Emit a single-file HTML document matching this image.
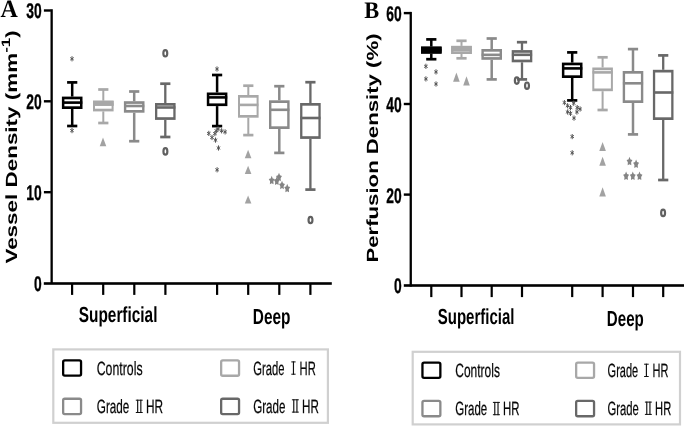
<!DOCTYPE html>
<html><head><meta charset="utf-8"><title>Figure</title>
<style>
html,body{margin:0;padding:0;background:#fff;}
body{width:685px;height:427px;overflow:hidden;font-family:"Liberation Sans",sans-serif;}
svg{display:block;will-change:transform;}
text{text-rendering:geometricPrecision;}
</style></head><body>
<svg width="685" height="427" viewBox="0 0 685 427" shape-rendering="auto">
<rect x="0" y="0" width="685" height="427" fill="#ffffff"/>
<rect x="50.50" y="9.20" width="2.30" height="274.60" fill="#000000"/>
<rect x="43.80" y="282.20" width="288.00" height="2.60" fill="#000000"/>
<rect x="43.90" y="9.30" width="7.00" height="2.40" fill="#000000"/>
<rect x="43.90" y="100.10" width="7.00" height="2.40" fill="#000000"/>
<rect x="43.90" y="191.00" width="7.00" height="2.40" fill="#000000"/>
<rect x="71.00" y="283.00" width="2.20" height="11.90" fill="#000000"/>
<rect x="102.10" y="283.00" width="2.20" height="11.90" fill="#000000"/>
<rect x="133.20" y="283.00" width="2.20" height="11.90" fill="#000000"/>
<rect x="164.30" y="283.00" width="2.20" height="11.90" fill="#000000"/>
<rect x="216.00" y="283.00" width="2.20" height="11.90" fill="#000000"/>
<rect x="247.10" y="283.00" width="2.20" height="11.90" fill="#000000"/>
<rect x="278.20" y="283.00" width="2.20" height="11.90" fill="#000000"/>
<rect x="309.30" y="283.00" width="2.20" height="11.90" fill="#000000"/>
<text transform="translate(41.60,18.20) scale(0.65,1)" font-family="Liberation Sans" font-size="21.3" font-weight="bold" text-anchor="end" fill="#000" stroke="#000" stroke-width="0.35">30</text>
<text transform="translate(41.60,109.00) scale(0.65,1)" font-family="Liberation Sans" font-size="21.3" font-weight="bold" text-anchor="end" fill="#000" stroke="#000" stroke-width="0.35">20</text>
<text transform="translate(41.60,199.90) scale(0.65,1)" font-family="Liberation Sans" font-size="21.3" font-weight="bold" text-anchor="end" fill="#000" stroke="#000" stroke-width="0.35">10</text>
<text transform="translate(41.60,290.60) scale(0.65,1)" font-family="Liberation Sans" font-size="21.3" font-weight="bold" text-anchor="end" fill="#000" stroke="#000" stroke-width="0.35">0</text>
<text transform="translate(118.10,322.00) scale(0.706,1)" font-family="Liberation Sans" font-size="21.8" font-weight="bold" text-anchor="middle" fill="#000">Superficial</text>
<text transform="translate(271.60,323.80) scale(0.706,1)" font-family="Liberation Sans" font-size="21.8" font-weight="bold" text-anchor="middle" fill="#000">Deep</text>
<text transform="translate(0.50,17.10) scale(0.95,1)" font-family="Liberation Serif" font-size="25.2" font-weight="bold" text-anchor="start" fill="#000">A</text>
<text transform="translate(17,263.6) rotate(-90) scale(1.386,1)" font-family="Liberation Sans" font-size="16.2" font-weight="bold" fill="#000">Vessel Density (mm<tspan font-size="12.2" dy="-7.2">-1</tspan><tspan dy="7.2">)</tspan></text>
<rect x="70.95" y="82.40" width="2.50" height="14.20" fill="#000000"/>
<rect x="70.95" y="109.00" width="2.50" height="17.00" fill="#000000"/>
<rect x="67.10" y="81.05" width="10.20" height="2.70" fill="#000000"/>
<rect x="67.10" y="124.65" width="10.20" height="2.70" fill="#000000"/>
<rect x="61.90" y="96.60" width="20.60" height="12.40" fill="#000000"/>
<rect x="64.40" y="99.30" width="15.60" height="7.00" fill="#ffffff"/>
<rect x="62.10" y="101.30" width="20.20" height="2.60" fill="#000000"/>
<rect x="102.30" y="89.50" width="2.00" height="11.20" fill="#a8a8a8"/>
<rect x="102.30" y="111.40" width="2.00" height="11.60" fill="#a8a8a8"/>
<rect x="98.20" y="88.15" width="10.20" height="2.70" fill="#a8a8a8"/>
<rect x="98.20" y="121.65" width="10.20" height="2.70" fill="#a8a8a8"/>
<rect x="93.00" y="100.70" width="20.60" height="10.70" fill="#a8a8a8"/>
<rect x="95.00" y="103.40" width="16.60" height="5.30" fill="#ffffff"/>
<rect x="93.20" y="103.20" width="20.20" height="2.60" fill="#a8a8a8"/>
<rect x="93.00" y="100.70" width="20.60" height="5.10" fill="#a8a8a8"/>
<rect x="132.95" y="91.50" width="2.50" height="9.70" fill="#8a8a8a"/>
<rect x="132.95" y="112.70" width="2.50" height="28.50" fill="#8a8a8a"/>
<rect x="129.10" y="90.15" width="10.20" height="2.70" fill="#8a8a8a"/>
<rect x="129.10" y="139.85" width="10.20" height="2.70" fill="#8a8a8a"/>
<rect x="123.90" y="101.20" width="20.60" height="11.50" fill="#8a8a8a"/>
<rect x="126.30" y="103.90" width="15.80" height="6.10" fill="#ffffff"/>
<rect x="124.10" y="104.70" width="20.20" height="2.60" fill="#8a8a8a"/>
<rect x="164.15" y="83.70" width="2.30" height="19.30" fill="#686868"/>
<rect x="164.15" y="119.90" width="2.30" height="17.10" fill="#686868"/>
<rect x="160.20" y="82.35" width="10.20" height="2.70" fill="#686868"/>
<rect x="160.20" y="135.65" width="10.20" height="2.70" fill="#686868"/>
<rect x="155.00" y="103.00" width="20.60" height="16.90" fill="#686868"/>
<rect x="157.30" y="105.70" width="16.00" height="11.50" fill="#ffffff"/>
<rect x="155.20" y="106.20" width="20.20" height="2.60" fill="#686868"/>
<rect x="215.85" y="75.00" width="2.50" height="17.50" fill="#000000"/>
<rect x="215.85" y="106.10" width="2.50" height="20.00" fill="#000000"/>
<rect x="212.00" y="73.65" width="10.20" height="2.70" fill="#000000"/>
<rect x="212.00" y="124.75" width="10.20" height="2.70" fill="#000000"/>
<rect x="206.80" y="92.50" width="20.60" height="13.60" fill="#000000"/>
<rect x="209.30" y="95.20" width="15.60" height="8.20" fill="#ffffff"/>
<rect x="207.00" y="96.10" width="20.20" height="2.60" fill="#000000"/>
<rect x="247.30" y="85.70" width="2.00" height="9.30" fill="#a8a8a8"/>
<rect x="247.30" y="117.70" width="2.00" height="17.40" fill="#a8a8a8"/>
<rect x="243.20" y="84.35" width="10.20" height="2.70" fill="#a8a8a8"/>
<rect x="243.20" y="133.75" width="10.20" height="2.70" fill="#a8a8a8"/>
<rect x="238.00" y="95.00" width="20.60" height="22.70" fill="#a8a8a8"/>
<rect x="240.00" y="97.70" width="16.60" height="17.30" fill="#ffffff"/>
<rect x="238.20" y="103.60" width="20.20" height="2.60" fill="#a8a8a8"/>
<rect x="278.05" y="86.20" width="2.50" height="14.10" fill="#8a8a8a"/>
<rect x="278.05" y="129.00" width="2.50" height="23.90" fill="#8a8a8a"/>
<rect x="274.20" y="84.85" width="10.20" height="2.70" fill="#8a8a8a"/>
<rect x="274.20" y="151.55" width="10.20" height="2.70" fill="#8a8a8a"/>
<rect x="269.00" y="100.30" width="20.60" height="28.70" fill="#8a8a8a"/>
<rect x="271.40" y="103.00" width="15.80" height="23.30" fill="#ffffff"/>
<rect x="269.20" y="108.50" width="20.20" height="2.60" fill="#8a8a8a"/>
<rect x="309.25" y="82.20" width="2.30" height="20.80" fill="#686868"/>
<rect x="309.25" y="138.90" width="2.30" height="50.70" fill="#686868"/>
<rect x="305.30" y="80.85" width="10.20" height="2.70" fill="#686868"/>
<rect x="305.30" y="188.25" width="10.20" height="2.70" fill="#686868"/>
<rect x="300.10" y="103.00" width="20.60" height="35.90" fill="#686868"/>
<rect x="302.40" y="105.70" width="16.00" height="30.50" fill="#ffffff"/>
<rect x="300.30" y="116.70" width="20.20" height="2.60" fill="#686868"/>
<line x1="72.00" y1="56.20" x2="72.00" y2="61.40" stroke="#555555" stroke-width="1.0"/><line x1="70.24" y1="57.50" x2="73.76" y2="60.10" stroke="#555555" stroke-width="1.0"/><line x1="73.76" y1="57.50" x2="70.24" y2="60.10" stroke="#555555" stroke-width="1.0"/>
<line x1="72.00" y1="128.00" x2="72.00" y2="133.20" stroke="#555555" stroke-width="1.0"/><line x1="70.24" y1="129.30" x2="73.76" y2="131.90" stroke="#555555" stroke-width="1.0"/><line x1="73.76" y1="129.30" x2="70.24" y2="131.90" stroke="#555555" stroke-width="1.0"/>
<line x1="217.00" y1="66.40" x2="217.00" y2="71.60" stroke="#555555" stroke-width="1.0"/><line x1="215.24" y1="67.70" x2="218.76" y2="70.30" stroke="#555555" stroke-width="1.0"/><line x1="218.76" y1="67.70" x2="215.24" y2="70.30" stroke="#555555" stroke-width="1.0"/>
<line x1="208.80" y1="130.80" x2="208.80" y2="136.00" stroke="#555555" stroke-width="1.0"/><line x1="207.04" y1="132.10" x2="210.56" y2="134.70" stroke="#555555" stroke-width="1.0"/><line x1="210.56" y1="132.10" x2="207.04" y2="134.70" stroke="#555555" stroke-width="1.0"/>
<line x1="212.00" y1="134.90" x2="212.00" y2="140.10" stroke="#555555" stroke-width="1.0"/><line x1="210.24" y1="136.20" x2="213.76" y2="138.80" stroke="#555555" stroke-width="1.0"/><line x1="213.76" y1="136.20" x2="210.24" y2="138.80" stroke="#555555" stroke-width="1.0"/>
<line x1="215.50" y1="137.50" x2="215.50" y2="142.70" stroke="#555555" stroke-width="1.0"/><line x1="213.74" y1="138.80" x2="217.26" y2="141.40" stroke="#555555" stroke-width="1.0"/><line x1="217.26" y1="138.80" x2="213.74" y2="141.40" stroke="#555555" stroke-width="1.0"/>
<line x1="214.90" y1="131.00" x2="214.90" y2="136.20" stroke="#555555" stroke-width="1.0"/><line x1="213.14" y1="132.30" x2="216.66" y2="134.90" stroke="#555555" stroke-width="1.0"/><line x1="216.66" y1="132.30" x2="213.14" y2="134.90" stroke="#555555" stroke-width="1.0"/>
<line x1="216.30" y1="128.20" x2="216.30" y2="133.40" stroke="#555555" stroke-width="1.0"/><line x1="214.54" y1="129.50" x2="218.06" y2="132.10" stroke="#555555" stroke-width="1.0"/><line x1="218.06" y1="129.50" x2="214.54" y2="132.10" stroke="#555555" stroke-width="1.0"/>
<line x1="218.10" y1="126.40" x2="218.10" y2="131.60" stroke="#555555" stroke-width="1.0"/><line x1="216.34" y1="127.70" x2="219.86" y2="130.30" stroke="#555555" stroke-width="1.0"/><line x1="219.86" y1="127.70" x2="216.34" y2="130.30" stroke="#555555" stroke-width="1.0"/>
<line x1="221.60" y1="128.20" x2="221.60" y2="133.40" stroke="#555555" stroke-width="1.0"/><line x1="219.84" y1="129.50" x2="223.36" y2="132.10" stroke="#555555" stroke-width="1.0"/><line x1="223.36" y1="129.50" x2="219.84" y2="132.10" stroke="#555555" stroke-width="1.0"/>
<line x1="225.10" y1="129.30" x2="225.10" y2="134.50" stroke="#555555" stroke-width="1.0"/><line x1="223.34" y1="130.60" x2="226.86" y2="133.20" stroke="#555555" stroke-width="1.0"/><line x1="226.86" y1="130.60" x2="223.34" y2="133.20" stroke="#555555" stroke-width="1.0"/>
<line x1="218.50" y1="145.40" x2="218.50" y2="150.60" stroke="#555555" stroke-width="1.0"/><line x1="216.74" y1="146.70" x2="220.26" y2="149.30" stroke="#555555" stroke-width="1.0"/><line x1="220.26" y1="146.70" x2="216.74" y2="149.30" stroke="#555555" stroke-width="1.0"/>
<line x1="217.10" y1="167.20" x2="217.10" y2="172.40" stroke="#555555" stroke-width="1.0"/><line x1="215.34" y1="168.50" x2="218.86" y2="171.10" stroke="#555555" stroke-width="1.0"/><line x1="218.86" y1="168.50" x2="215.34" y2="171.10" stroke="#555555" stroke-width="1.0"/>
<polygon points="103.00,137.40 99.70,146.20 106.30,146.20" fill="#a2a2a2"/>
<polygon points="248.10,149.80 244.80,158.20 251.40,158.20" fill="#a2a2a2"/>
<polygon points="248.10,165.70 244.80,174.10 251.40,174.10" fill="#a2a2a2"/>
<polygon points="248.10,195.40 244.80,203.60 251.40,203.60" fill="#a2a2a2"/>
<polygon points="271.70,175.85 272.72,178.42 274.65,179.10 273.35,181.36 273.52,184.35 271.70,183.18 269.88,184.35 270.05,181.36 268.75,179.10 270.68,178.42" fill="#848484"/>
<polygon points="276.80,176.55 277.82,179.12 279.75,179.80 278.45,182.06 278.62,185.05 276.80,183.88 274.98,185.05 275.15,182.06 273.85,179.80 275.78,179.12" fill="#848484"/>
<polygon points="279.00,172.75 280.02,175.32 281.95,176.00 280.65,178.26 280.82,181.25 279.00,180.08 277.18,181.25 277.35,178.26 276.05,176.00 277.98,175.32" fill="#848484"/>
<polygon points="282.00,180.65 283.02,183.22 284.95,183.90 283.65,186.16 283.82,189.15 282.00,187.98 280.18,189.15 280.35,186.16 279.05,183.90 280.98,183.22" fill="#848484"/>
<polygon points="287.20,183.85 288.22,186.42 290.15,187.10 288.85,189.36 289.02,192.35 287.20,191.18 285.38,192.35 285.55,189.36 284.25,187.10 286.18,186.42" fill="#848484"/>
<ellipse cx="165.30" cy="53.30" rx="1.95" ry="3.2" fill="none" stroke="#606060" stroke-width="2.2"/>
<ellipse cx="165.40" cy="151.40" rx="1.95" ry="3.2" fill="none" stroke="#606060" stroke-width="2.2"/>
<ellipse cx="310.50" cy="220.00" rx="1.95" ry="3.2" fill="none" stroke="#606060" stroke-width="2.2"/>
<rect x="53.30" y="349.40" width="274.60" height="73.40" fill="#fff" stroke="#d0d0d0" stroke-width="2.2"/>
<rect x="63.15" y="360.35" width="17.90" height="15.30" rx="1.6" ry="1.6" fill="#fff" stroke="#000000" stroke-width="2.3"/>
<rect x="63.15" y="398.75" width="17.90" height="15.30" rx="1.6" ry="1.6" fill="#fff" stroke="#8a8a8a" stroke-width="2.3"/>
<rect x="221.15" y="360.45" width="17.90" height="15.30" rx="1.6" ry="1.6" fill="#fff" stroke="#a8a8a8" stroke-width="2.3"/>
<rect x="221.15" y="398.75" width="17.90" height="15.30" rx="1.6" ry="1.6" fill="#fff" stroke="#686868" stroke-width="2.3"/>
<text transform="translate(96.70,374.95) scale(0.642,1)" font-family="Liberation Sans" font-size="19.2" font-weight="normal" text-anchor="start" fill="#080808" stroke="#080808" stroke-width="0.25">Controls</text>
<text transform="translate(96.80,413.15) scale(0.611,1)" font-family="Liberation Sans" font-size="19.2" font-weight="normal" text-anchor="start" fill="#080808" stroke="#080808" stroke-width="0.25">Grade</text><rect x="135.80" y="399.70" width="6.90" height="1.00" fill="#101010"/><rect x="135.80" y="412.00" width="6.90" height="1.00" fill="#101010"/><rect x="137.09" y="399.70" width="1.15" height="13.30" fill="#101010"/><rect x="140.26" y="399.70" width="1.15" height="13.30" fill="#101010"/><text transform="translate(145.90,413.15) scale(0.6168,1)" font-family="Liberation Sans" font-size="19.2" font-weight="normal" text-anchor="start" fill="#080808" stroke="#080808" stroke-width="0.25">HR</text>
<text transform="translate(253.20,374.85) scale(0.5847,1)" font-family="Liberation Sans" font-size="19.2" font-weight="normal" text-anchor="start" fill="#080808" stroke="#080808" stroke-width="0.25">Grade</text><rect x="291.30" y="361.40" width="4.30" height="1.00" fill="#101010"/><rect x="291.30" y="373.70" width="4.30" height="1.00" fill="#101010"/><rect x="292.88" y="361.40" width="1.15" height="13.30" fill="#101010"/><text transform="translate(299.60,374.85) scale(0.5843,1)" font-family="Liberation Sans" font-size="19.2" font-weight="normal" text-anchor="start" fill="#080808" stroke="#080808" stroke-width="0.25">HR</text>
<text transform="translate(253.20,412.75) scale(0.6054,1)" font-family="Liberation Sans" font-size="19.2" font-weight="normal" text-anchor="start" fill="#080808" stroke="#080808" stroke-width="0.25">Grade</text><rect x="291.90" y="399.30" width="6.90" height="1.00" fill="#101010"/><rect x="291.90" y="411.60" width="6.90" height="1.00" fill="#101010"/><rect x="293.19" y="399.30" width="1.15" height="13.30" fill="#101010"/><rect x="296.36" y="399.30" width="1.15" height="13.30" fill="#101010"/><text transform="translate(302.10,412.75) scale(0.606,1)" font-family="Liberation Sans" font-size="19.2" font-weight="normal" text-anchor="start" fill="#080808" stroke="#080808" stroke-width="0.25">HR</text>
<rect x="409.60" y="11.90" width="2.30" height="274.70" fill="#000000"/>
<rect x="403.80" y="284.20" width="280.20" height="2.60" fill="#000000"/>
<rect x="403.80" y="11.90" width="7.00" height="2.40" fill="#000000"/>
<rect x="403.80" y="102.80" width="7.00" height="2.40" fill="#000000"/>
<rect x="403.80" y="193.40" width="7.00" height="2.40" fill="#000000"/>
<rect x="430.20" y="285.50" width="2.20" height="11.60" fill="#000000"/>
<rect x="460.40" y="285.50" width="2.20" height="11.60" fill="#000000"/>
<rect x="490.60" y="285.50" width="2.20" height="11.60" fill="#000000"/>
<rect x="520.90" y="285.50" width="2.20" height="11.60" fill="#000000"/>
<rect x="571.10" y="285.50" width="2.20" height="11.60" fill="#000000"/>
<rect x="601.50" y="285.50" width="2.20" height="11.60" fill="#000000"/>
<rect x="631.90" y="285.50" width="2.20" height="11.60" fill="#000000"/>
<rect x="662.10" y="285.50" width="2.20" height="11.60" fill="#000000"/>
<text transform="translate(401.60,21.00) scale(0.65,1)" font-family="Liberation Sans" font-size="21.3" font-weight="bold" text-anchor="end" fill="#000" stroke="#000" stroke-width="0.35">60</text>
<text transform="translate(401.60,111.90) scale(0.65,1)" font-family="Liberation Sans" font-size="21.3" font-weight="bold" text-anchor="end" fill="#000" stroke="#000" stroke-width="0.35">40</text>
<text transform="translate(401.60,202.50) scale(0.65,1)" font-family="Liberation Sans" font-size="21.3" font-weight="bold" text-anchor="end" fill="#000" stroke="#000" stroke-width="0.35">20</text>
<text transform="translate(401.60,293.30) scale(0.65,1)" font-family="Liberation Sans" font-size="21.3" font-weight="bold" text-anchor="end" fill="#000" stroke="#000" stroke-width="0.35">0</text>
<text transform="translate(476.10,324.20) scale(0.688,1)" font-family="Liberation Sans" font-size="21.8" font-weight="bold" text-anchor="middle" fill="#000">Superficial</text>
<text transform="translate(625.30,326.20) scale(0.692,1)" font-family="Liberation Sans" font-size="21.8" font-weight="bold" text-anchor="middle" fill="#000">Deep</text>
<text transform="translate(364.30,18.00) scale(0.945,1)" font-family="Liberation Serif" font-size="23.7" font-weight="bold" text-anchor="start" fill="#000">B</text>
<text transform="translate(377.6,262.6) rotate(-90) scale(1.37,1)" font-family="Liberation Sans" font-size="16.2" font-weight="bold" fill="#000">Perfusion Density (%)</text>
<rect x="430.05" y="39.40" width="2.50" height="7.20" fill="#000000"/>
<rect x="430.05" y="53.60" width="2.50" height="5.60" fill="#000000"/>
<rect x="426.20" y="38.05" width="10.20" height="2.70" fill="#000000"/>
<rect x="426.20" y="57.85" width="10.20" height="2.70" fill="#000000"/>
<rect x="421.00" y="46.60" width="20.60" height="7.00" fill="#000000"/>
<rect x="423.50" y="49.30" width="15.60" height="1.60" fill="#ffffff"/>
<rect x="421.20" y="48.80" width="20.20" height="2.60" fill="#000000"/>
<rect x="421.00" y="46.60" width="20.60" height="7.00" fill="#000000"/>
<rect x="460.50" y="40.80" width="2.00" height="5.10" fill="#a8a8a8"/>
<rect x="460.50" y="54.00" width="2.00" height="4.30" fill="#a8a8a8"/>
<rect x="456.40" y="39.45" width="10.20" height="2.70" fill="#a8a8a8"/>
<rect x="456.40" y="56.95" width="10.20" height="2.70" fill="#a8a8a8"/>
<rect x="451.20" y="45.90" width="20.60" height="8.10" fill="#a8a8a8"/>
<rect x="453.20" y="48.60" width="16.60" height="2.70" fill="#ffffff"/>
<rect x="451.40" y="48.70" width="20.20" height="2.60" fill="#a8a8a8"/>
<rect x="451.20" y="45.90" width="20.60" height="8.10" fill="#a8a8a8"/>
<rect x="453.50" y="51.00" width="16.00" height="0.80" fill="#c2c2c2"/>
<rect x="490.45" y="38.50" width="2.50" height="10.50" fill="#8a8a8a"/>
<rect x="490.45" y="59.80" width="2.50" height="19.60" fill="#8a8a8a"/>
<rect x="486.60" y="37.15" width="10.20" height="2.70" fill="#8a8a8a"/>
<rect x="486.60" y="78.05" width="10.20" height="2.70" fill="#8a8a8a"/>
<rect x="481.40" y="49.00" width="20.60" height="10.80" fill="#8a8a8a"/>
<rect x="483.80" y="51.70" width="15.80" height="5.40" fill="#ffffff"/>
<rect x="481.60" y="53.55" width="20.20" height="2.60" fill="#8a8a8a"/>
<rect x="520.85" y="42.20" width="2.30" height="7.90" fill="#686868"/>
<rect x="520.85" y="62.30" width="2.30" height="17.10" fill="#686868"/>
<rect x="516.90" y="40.85" width="10.20" height="2.70" fill="#686868"/>
<rect x="516.90" y="78.05" width="10.20" height="2.70" fill="#686868"/>
<rect x="511.70" y="50.10" width="20.60" height="12.20" fill="#686868"/>
<rect x="514.00" y="52.80" width="16.00" height="6.80" fill="#ffffff"/>
<rect x="511.90" y="53.50" width="20.20" height="2.60" fill="#686868"/>
<rect x="570.95" y="52.40" width="2.50" height="10.20" fill="#000000"/>
<rect x="570.95" y="78.00" width="2.50" height="22.40" fill="#000000"/>
<rect x="567.10" y="51.05" width="10.20" height="2.70" fill="#000000"/>
<rect x="567.10" y="99.05" width="10.20" height="2.70" fill="#000000"/>
<rect x="561.90" y="62.60" width="20.60" height="15.40" fill="#000000"/>
<rect x="564.40" y="65.30" width="15.60" height="10.00" fill="#ffffff"/>
<rect x="562.10" y="67.10" width="20.20" height="2.60" fill="#000000"/>
<rect x="601.60" y="57.30" width="2.00" height="10.20" fill="#a8a8a8"/>
<rect x="601.60" y="91.20" width="2.00" height="18.80" fill="#a8a8a8"/>
<rect x="597.50" y="55.95" width="10.20" height="2.70" fill="#a8a8a8"/>
<rect x="597.50" y="108.65" width="10.20" height="2.70" fill="#a8a8a8"/>
<rect x="592.30" y="67.50" width="20.60" height="23.70" fill="#a8a8a8"/>
<rect x="594.30" y="70.20" width="16.60" height="18.30" fill="#ffffff"/>
<rect x="592.50" y="71.10" width="20.20" height="2.60" fill="#a8a8a8"/>
<rect x="631.75" y="49.10" width="2.50" height="21.90" fill="#8a8a8a"/>
<rect x="631.75" y="103.00" width="2.50" height="31.40" fill="#8a8a8a"/>
<rect x="627.90" y="47.75" width="10.20" height="2.70" fill="#8a8a8a"/>
<rect x="627.90" y="133.05" width="10.20" height="2.70" fill="#8a8a8a"/>
<rect x="622.70" y="71.00" width="20.60" height="32.00" fill="#8a8a8a"/>
<rect x="625.10" y="73.70" width="15.80" height="26.60" fill="#ffffff"/>
<rect x="622.90" y="82.00" width="20.20" height="2.60" fill="#8a8a8a"/>
<rect x="662.05" y="55.40" width="2.30" height="14.40" fill="#686868"/>
<rect x="662.05" y="120.00" width="2.30" height="60.00" fill="#686868"/>
<rect x="658.10" y="54.05" width="10.20" height="2.70" fill="#686868"/>
<rect x="658.10" y="178.65" width="10.20" height="2.70" fill="#686868"/>
<rect x="652.90" y="69.80" width="20.60" height="50.20" fill="#686868"/>
<rect x="655.20" y="72.50" width="16.00" height="44.80" fill="#ffffff"/>
<rect x="653.10" y="91.20" width="20.20" height="2.60" fill="#686868"/>
<line x1="425.90" y1="63.70" x2="425.90" y2="68.90" stroke="#555555" stroke-width="1.0"/><line x1="424.14" y1="65.00" x2="427.66" y2="67.60" stroke="#555555" stroke-width="1.0"/><line x1="427.66" y1="65.00" x2="424.14" y2="67.60" stroke="#555555" stroke-width="1.0"/>
<line x1="436.00" y1="69.30" x2="436.00" y2="74.50" stroke="#555555" stroke-width="1.0"/><line x1="434.24" y1="70.60" x2="437.76" y2="73.20" stroke="#555555" stroke-width="1.0"/><line x1="437.76" y1="70.60" x2="434.24" y2="73.20" stroke="#555555" stroke-width="1.0"/>
<line x1="425.90" y1="76.30" x2="425.90" y2="81.50" stroke="#555555" stroke-width="1.0"/><line x1="424.14" y1="77.60" x2="427.66" y2="80.20" stroke="#555555" stroke-width="1.0"/><line x1="427.66" y1="77.60" x2="424.14" y2="80.20" stroke="#555555" stroke-width="1.0"/>
<line x1="436.00" y1="81.40" x2="436.00" y2="86.60" stroke="#555555" stroke-width="1.0"/><line x1="434.24" y1="82.70" x2="437.76" y2="85.30" stroke="#555555" stroke-width="1.0"/><line x1="437.76" y1="82.70" x2="434.24" y2="85.30" stroke="#555555" stroke-width="1.0"/>
<line x1="564.40" y1="100.00" x2="564.40" y2="105.20" stroke="#555555" stroke-width="1.0"/><line x1="562.64" y1="101.30" x2="566.16" y2="103.90" stroke="#555555" stroke-width="1.0"/><line x1="566.16" y1="101.30" x2="562.64" y2="103.90" stroke="#555555" stroke-width="1.0"/>
<line x1="573.70" y1="100.60" x2="573.70" y2="105.80" stroke="#555555" stroke-width="1.0"/><line x1="571.94" y1="101.90" x2="575.46" y2="104.50" stroke="#555555" stroke-width="1.0"/><line x1="575.46" y1="101.90" x2="571.94" y2="104.50" stroke="#555555" stroke-width="1.0"/>
<line x1="567.60" y1="103.20" x2="567.60" y2="108.40" stroke="#555555" stroke-width="1.0"/><line x1="565.84" y1="104.50" x2="569.36" y2="107.10" stroke="#555555" stroke-width="1.0"/><line x1="569.36" y1="104.50" x2="565.84" y2="107.10" stroke="#555555" stroke-width="1.0"/>
<line x1="570.50" y1="105.00" x2="570.50" y2="110.20" stroke="#555555" stroke-width="1.0"/><line x1="568.74" y1="106.30" x2="572.26" y2="108.90" stroke="#555555" stroke-width="1.0"/><line x1="572.26" y1="106.30" x2="568.74" y2="108.90" stroke="#555555" stroke-width="1.0"/>
<line x1="567.60" y1="109.40" x2="567.60" y2="114.60" stroke="#555555" stroke-width="1.0"/><line x1="565.84" y1="110.70" x2="569.36" y2="113.30" stroke="#555555" stroke-width="1.0"/><line x1="569.36" y1="110.70" x2="565.84" y2="113.30" stroke="#555555" stroke-width="1.0"/>
<line x1="570.50" y1="110.80" x2="570.50" y2="116.00" stroke="#555555" stroke-width="1.0"/><line x1="568.74" y1="112.10" x2="572.26" y2="114.70" stroke="#555555" stroke-width="1.0"/><line x1="572.26" y1="112.10" x2="568.74" y2="114.70" stroke="#555555" stroke-width="1.0"/>
<line x1="577.20" y1="105.00" x2="577.20" y2="110.20" stroke="#555555" stroke-width="1.0"/><line x1="575.44" y1="106.30" x2="578.96" y2="108.90" stroke="#555555" stroke-width="1.0"/><line x1="578.96" y1="106.30" x2="575.44" y2="108.90" stroke="#555555" stroke-width="1.0"/>
<line x1="580.10" y1="106.40" x2="580.10" y2="111.60" stroke="#555555" stroke-width="1.0"/><line x1="578.34" y1="107.70" x2="581.86" y2="110.30" stroke="#555555" stroke-width="1.0"/><line x1="581.86" y1="107.70" x2="578.34" y2="110.30" stroke="#555555" stroke-width="1.0"/>
<line x1="576.90" y1="109.40" x2="576.90" y2="114.60" stroke="#555555" stroke-width="1.0"/><line x1="575.14" y1="110.70" x2="578.66" y2="113.30" stroke="#555555" stroke-width="1.0"/><line x1="578.66" y1="110.70" x2="575.14" y2="113.30" stroke="#555555" stroke-width="1.0"/>
<line x1="574.00" y1="115.50" x2="574.00" y2="120.70" stroke="#555555" stroke-width="1.0"/><line x1="572.24" y1="116.80" x2="575.76" y2="119.40" stroke="#555555" stroke-width="1.0"/><line x1="575.76" y1="116.80" x2="572.24" y2="119.40" stroke="#555555" stroke-width="1.0"/>
<line x1="572.20" y1="134.00" x2="572.20" y2="139.20" stroke="#555555" stroke-width="1.0"/><line x1="570.44" y1="135.30" x2="573.96" y2="137.90" stroke="#555555" stroke-width="1.0"/><line x1="573.96" y1="135.30" x2="570.44" y2="137.90" stroke="#555555" stroke-width="1.0"/>
<line x1="572.20" y1="150.20" x2="572.20" y2="155.40" stroke="#555555" stroke-width="1.0"/><line x1="570.44" y1="151.50" x2="573.96" y2="154.10" stroke="#555555" stroke-width="1.0"/><line x1="573.96" y1="151.50" x2="570.44" y2="154.10" stroke="#555555" stroke-width="1.0"/>
<polygon points="456.40,72.40 453.10,81.70 459.70,81.70" fill="#a2a2a2"/>
<polygon points="466.50,76.30 463.20,85.50 469.80,85.50" fill="#a2a2a2"/>
<polygon points="602.60,142.10 599.30,150.90 605.90,150.90" fill="#a2a2a2"/>
<polygon points="602.60,156.70 599.30,165.70 605.90,165.70" fill="#a2a2a2"/>
<polygon points="602.60,187.20 599.30,196.60 605.90,196.60" fill="#a2a2a2"/>
<polygon points="629.50,156.85 630.52,159.42 632.45,160.10 631.15,162.36 631.32,165.35 629.50,164.18 627.68,165.35 627.85,162.36 626.55,160.10 628.48,159.42" fill="#848484"/>
<polygon points="636.10,159.55 637.12,162.12 639.05,162.80 637.75,165.06 637.92,168.05 636.10,166.88 634.28,168.05 634.45,165.06 633.15,162.80 635.08,162.12" fill="#848484"/>
<polygon points="626.10,171.55 627.12,174.12 629.05,174.80 627.75,177.06 627.92,180.05 626.10,178.88 624.28,180.05 624.45,177.06 623.15,174.80 625.08,174.12" fill="#848484"/>
<polygon points="632.80,171.55 633.82,174.12 635.75,174.80 634.45,177.06 634.62,180.05 632.80,178.88 630.98,180.05 631.15,177.06 629.85,174.80 631.78,174.12" fill="#848484"/>
<polygon points="639.50,171.55 640.52,174.12 642.45,174.80 641.15,177.06 641.32,180.05 639.50,178.88 637.68,180.05 637.85,177.06 636.55,174.80 638.48,174.12" fill="#848484"/>
<ellipse cx="516.80" cy="80.60" rx="1.95" ry="3.2" fill="none" stroke="#606060" stroke-width="2.2"/>
<ellipse cx="527.00" cy="85.70" rx="1.95" ry="3.2" fill="none" stroke="#606060" stroke-width="2.2"/>
<ellipse cx="663.10" cy="212.90" rx="1.95" ry="3.2" fill="none" stroke="#606060" stroke-width="2.2"/>
<rect x="412.70" y="351.80" width="267.30" height="72.60" fill="#fff" stroke="#d0d0d0" stroke-width="2.2"/>
<rect x="422.45" y="362.65" width="17.90" height="15.30" rx="1.6" ry="1.6" fill="#fff" stroke="#000000" stroke-width="2.3"/>
<rect x="422.45" y="400.95" width="17.90" height="15.30" rx="1.6" ry="1.6" fill="#fff" stroke="#8a8a8a" stroke-width="2.3"/>
<rect x="576.15" y="362.65" width="17.90" height="15.30" rx="1.6" ry="1.6" fill="#fff" stroke="#a8a8a8" stroke-width="2.3"/>
<rect x="576.15" y="400.95" width="17.90" height="15.30" rx="1.6" ry="1.6" fill="#fff" stroke="#686868" stroke-width="2.3"/>
<text transform="translate(455.30,377.45) scale(0.6238,1)" font-family="Liberation Sans" font-size="19.2" font-weight="normal" text-anchor="start" fill="#080808" stroke="#080808" stroke-width="0.25">Controls</text>
<text transform="translate(455.30,415.35) scale(0.5979,1)" font-family="Liberation Sans" font-size="19.2" font-weight="normal" text-anchor="start" fill="#080808" stroke="#080808" stroke-width="0.25">Grade</text><rect x="492.90" y="401.90" width="7.00" height="1.00" fill="#101010"/><rect x="492.90" y="414.20" width="7.00" height="1.00" fill="#101010"/><rect x="494.21" y="401.90" width="1.15" height="13.30" fill="#101010"/><rect x="497.44" y="401.90" width="1.15" height="13.30" fill="#101010"/><text transform="translate(503.10,415.35) scale(0.5951,1)" font-family="Liberation Sans" font-size="19.2" font-weight="normal" text-anchor="start" fill="#080808" stroke="#080808" stroke-width="0.25">HR</text>
<text transform="translate(607.60,377.15) scale(0.5735,1)" font-family="Liberation Sans" font-size="19.2" font-weight="normal" text-anchor="start" fill="#080808" stroke="#080808" stroke-width="0.25">Grade</text><rect x="644.10" y="363.70" width="4.60" height="1.00" fill="#101010"/><rect x="644.10" y="376.00" width="4.60" height="1.00" fill="#101010"/><rect x="645.83" y="363.70" width="1.15" height="13.30" fill="#101010"/><text transform="translate(652.50,377.15) scale(0.5735,1)" font-family="Liberation Sans" font-size="19.2" font-weight="normal" text-anchor="start" fill="#080808" stroke="#080808" stroke-width="0.25">HR</text>
<text transform="translate(607.60,415.05) scale(0.5866,1)" font-family="Liberation Sans" font-size="19.2" font-weight="normal" text-anchor="start" fill="#080808" stroke="#080808" stroke-width="0.25">Grade</text><rect x="644.90" y="401.60" width="6.90" height="1.00" fill="#101010"/><rect x="644.90" y="413.90" width="6.90" height="1.00" fill="#101010"/><rect x="646.19" y="401.60" width="1.15" height="13.30" fill="#101010"/><rect x="649.36" y="401.60" width="1.15" height="13.30" fill="#101010"/><text transform="translate(655.10,415.05) scale(0.5807,1)" font-family="Liberation Sans" font-size="19.2" font-weight="normal" text-anchor="start" fill="#080808" stroke="#080808" stroke-width="0.25">HR</text>
</svg>
</body></html>
